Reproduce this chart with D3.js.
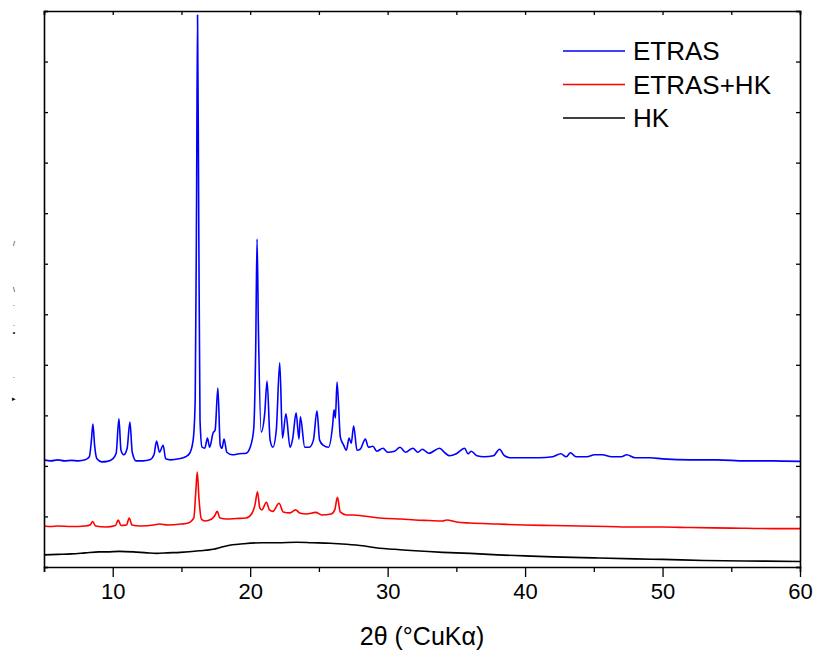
<!DOCTYPE html>
<meta charset="utf-8">
<style>
body { margin: 0; background: #fff; }
text { font-family: Arial, "Liberation Sans", sans-serif; fill: #000; }
.trace { fill: none; stroke-width: 1.6px; stroke-linejoin: round; }
</style>

<svg class="chart" width="814" height="654"></svg>
<script src="https://cdn.jsdelivr.net/npm/d3@7"></script>
<script>

// 2theta values and intensities (a.u.)
var etras = [
  [5.0,212],[5.5,210],[6.0,212],[6.5,210],[7.0,211],[7.5,210],[8.0,212],[8.3,218],
  [8.45,251],[8.56,283],[8.68,241],[8.85,214],[9.2,208],[9.6,209],[10.0,214],[10.25,225],
  [10.45,293],[10.6,231],[10.8,222],[11.05,235],[11.25,287],[11.42,227],[11.7,210],[12.2,210],
  [12.7,212],[13.0,222],[13.19,249],[13.4,227],[13.67,241],[13.85,214],[14.2,212],[14.8,214],
  [15.3,218],[15.6,225],[15.85,251],[16.0,330],[16.1,726],[16.17,1092],[16.25,726],[16.35,291],
  [16.5,237],[16.7,235],[16.89,255],[17.05,237],[17.3,265],[17.45,271],[17.65,354],[17.82,241],
  [17.95,235],[18.1,253],[18.3,227],[18.7,222],[19.2,224],[19.7,225],[20.0,237],[20.25,271],
  [20.4,429],[20.5,649],[20.6,469],[20.8,267],[21.06,305],[21.23,368],[21.45,251],[21.65,237],
  [21.9,271],[22.15,404],[22.35,255],[22.6,303],[22.9,237],[23.1,255],[23.34,305],[23.55,253],
  [23.65,297],[23.97,237],[24.3,237],[24.6,251],[24.86,309],[25.05,251],[25.3,241],[25.7,237],
  [26.0,281],[26.1,311],[26.2,295],[26.32,366],[26.56,257],[26.8,241],[27.0,231],[27.19,255],
  [27.35,245],[27.53,279],[27.77,231],[28.0,233],[28.38,253],[28.6,237],[28.93,239],[29.2,229],
  [29.66,235],[30.0,227],[30.5,229],[30.9,237],[31.3,227],[31.84,235],[32.2,227],[32.52,233],
  [33.0,225],[33.78,235],[34.2,225],[34.5,220],[35.0,224],[35.6,235],[35.85,224],[36.08,229],
  [36.5,220],[37.0,218],[37.7,220],[38.14,233],[38.5,220],[39.0,216],[40.0,216],[41.0,216],
  [42.0,218],[42.6,224],[43.0,218],[43.3,226],[43.7,218],[44.5,218],[45.05,222],[45.6,222],
  [46.3,218],[47.0,218],[47.4,222],[48.0,216],[49.1,216],[50.0,214],[52.0,212],[54.0,212],
  [56.0,210],[58.0,210],[60.0,209]
];

var etrasHk = [
  [5.0,81],[5.5,80],[6.0,81],[7.0,80],[8.0,81],[8.35,83],[8.54,90],[8.75,81],
  [9.5,79],[10.2,82],[10.4,93],[10.6,82],[11.0,83],[11.2,97],[11.4,83],[12.0,81],
  [13.0,83],[13.4,85],[14.0,83],[15.0,85],[15.5,87],[15.9,97],[16.05,152],[16.15,188],
  [16.28,133],[16.45,95],[16.7,91],[17.2,95],[17.45,103],[17.6,110],[17.8,97],[18.3,95],
  [19.0,96],[19.7,97],[20.1,105],[20.35,123],[20.53,149],[20.7,117],[20.85,113],[21.18,128],
  [21.4,113],[21.65,110],[22.1,126],[22.4,109],[22.9,107],[23.3,113],[23.6,107],[24.1,105],
  [24.77,108],[25.2,103],[25.9,105],[26.15,113],[26.35,138],[26.55,109],[27.0,103],[27.5,103],
  [28.2,101],[29.4,97],[30.0,96],[31.0,95],[32.0,93],[33.0,92],[34.0,91],[34.3,93],
  [35.0,89],[36.0,87],[38.0,85],[40.0,83],[42.0,82],[44.0,81],[46.0,80],[48.0,79],
  [50.0,79],[52.0,78],[55.0,77],[58.0,76],[60.0,76]
];

var hk = [
  [5,24],[6,25],[7,26],[8,28],[9,30],[9.55,30],[10.5,31],[11.5,30],[12.5,28],[13.2,27],
  [14,28],[14.9,29],[16.3,32],[17.3,35],[18,40],[18.7,44],[19.5,46],[20.9,48],[22,48],
  [23.4,49],[24.5,48],[25.8,47],[27,45],[28.2,42],[29.4,37],[30.5,35],[32,32],[34,29],
  [36,27],[38,24],[40,22],[42,20],[45,18],[48,16],[50,15],[53,13],[56,12],[60,11]
];

var seriesNames = ["ETRAS", "ETRAS+HK", "HK"];
var seriesColors = ["#0000ff", "#ff0000", "#000000"];
var xTicks = [10, 20, 30, 40, 50, 60];

var svg = d3.select(".chart"),
    margin = {top: 11, right: 14, bottom: 87, left: 44},
    width = +svg.attr("width") - margin.left - margin.right,
    height = +svg.attr("height") - margin.top - margin.bottom;

var g = svg.append("g").attr("transform", "translate(" + margin.left + "," + margin.top + ")");

var x = d3.scaleLinear().domain([5, 60]).range([0, width]);
var y = d3.scaleLinear().domain([0, 1100]).range([height, 0]);

var line = d3.line()
    .curve(d3.curveMonotoneX)
    .x(function(d) { return x(d[0]); })
    .y(function(d) { return y(d[1]); });

g.append("defs").append("clipPath").attr("id", "plot")
  .append("rect").attr("width", width).attr("height", height);

var traces = [etras, etrasHk, hk];
g.append("g").attr("clip-path", "url(#plot)")
  .selectAll("path")
  .data(traces)
  .enter().append("path")
    .attr("class", "trace")
    .attr("stroke", function(d, i) { return seriesColors[i]; })
    .attr("d", line);

// axes: bottom with labels, the other three with inward ticks only
var minor = d3.range(5, 61, 5);

var bottom = g.append("g").attr("transform", "translate(0," + height + ")")
    .call(d3.axisBottom(x).tickValues(minor).tickSize(5).tickFormat(""));
bottom.selectAll(".tick line").filter(function(d) { return d % 10 === 0; }).attr("y2", 10);
bottom.append("g")
    .call(d3.axisBottom(x).tickValues(xTicks).tickSize(0).tickPadding(16))
    .call(function(a) { a.select(".domain").remove(); });
bottom.selectAll("text").attr("font-size", 22).attr("font-family", "Arial, 'Liberation Sans', sans-serif");

g.append("g")
    .call(d3.axisBottom(x).tickValues(minor).tickSize(4).tickFormat(""));
g.append("g")
    .call(d3.axisRight(y).ticks(11).tickSize(4).tickFormat(""));
g.append("g").attr("transform", "translate(" + width + ",0)")
    .call(d3.axisLeft(y).ticks(11).tickSize(4).tickFormat(""));

g.selectAll(".domain").attr("stroke-width", 1.6);
g.selectAll(".tick line").attr("stroke-width", 1.3);

g.append("text")
    .attr("x", width / 2)
    .attr("y", height + 78)
    .attr("text-anchor", "middle")
    .attr("font-size", 25)
    .text("2\u03b8 (\u00b0CuK\u03b1)");

// remnants of the y axis title
var yLabelBits = [["/", 243], ["\\", 289], ["\u00b7", 305], ["\u00b7", 325], ["\u2022", 332], ["\u00b7", 377], ["\u25b8", 398]];
svg.selectAll(".ybit")
  .data(yLabelBits)
  .enter().append("text")
    .attr("class", "ybit")
    .attr("x", 14)
    .attr("y", function(d) { return d[1] + 3; })
    .attr("text-anchor", "middle")
    .attr("font-size", 7)
    .text(function(d) { return d[0]; });

// legend
var legend = g.append("g").attr("transform", "translate(519,40)");
var item = legend.selectAll("g")
  .data(seriesNames)
  .enter().append("g")
    .attr("transform", function(d, i) { return "translate(0," + (i * 33.5) + ")"; });
item.append("line")
    .attr("x1", 0).attr("x2", 62)
    .attr("stroke", function(d, i) { return seriesColors[i]; })
    .attr("stroke-width", 1.3);
item.append("text")
    .attr("x", 70)
    .attr("y", 9)
    .attr("font-size", 26)
    .text(function(d) { return d; });

</script>
